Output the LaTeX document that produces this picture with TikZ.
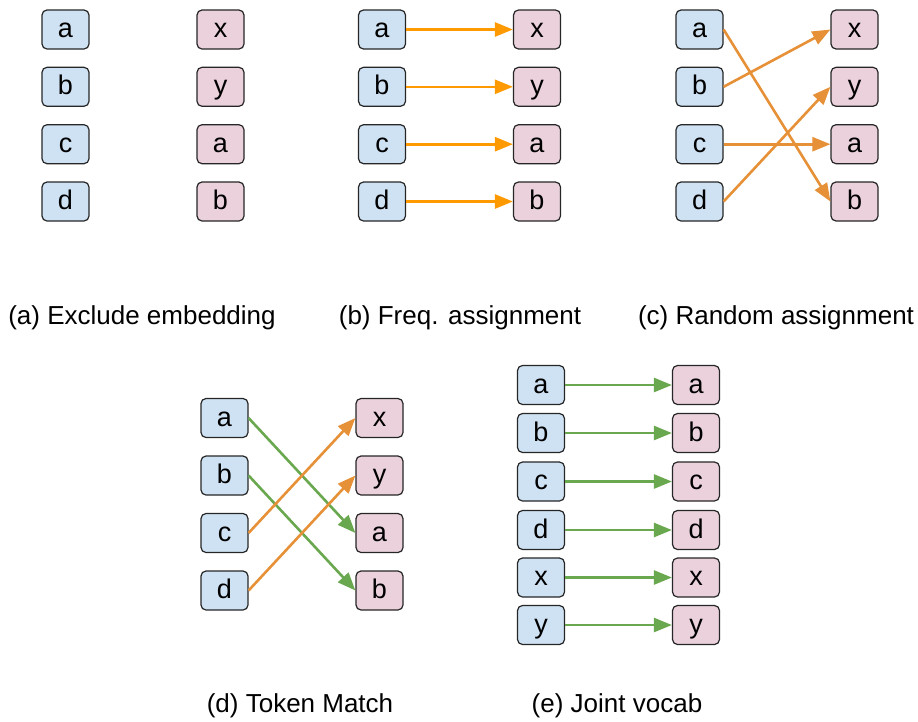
\documentclass[tikz,border=0pt]{standalone}
\usepackage{fontspec}
\setmainfont{Liberation Sans}
\usetikzlibrary{arrows.meta}
\definecolor{srcblue}{HTML}{CFE2F3}
\definecolor{tgtpink}{HTML}{EAD1DC}
\definecolor{freqorange}{HTML}{FF9900}
\definecolor{randorange}{HTML}{E69138}
\definecolor{matchgreen}{HTML}{6AA84F}
\tikzset{
  tok/.style={draw=black!85, line width=1.2pt, rounded corners=5pt,
    minimum width=47pt, minimum height=39pt, inner sep=0pt,
    text height=21pt, text depth=5pt, font=\fontsize{27}{27}\selectfont},
  src/.style={tok, fill=srcblue},
  tgt/.style={tok, fill=tgtpink},
  link/.style={line width=2.6pt, -{Triangle[length=18pt,width=14pt]}},
  captext/.style={font=\fontsize{26}{26}\selectfont}
}
\begin{document}
\begin{tikzpicture}[x=1pt, y=-1pt]
    \useasboundingbox (0,0) rectangle (918,721);
    % (a) exclude embedding
    \node[src] (aL1) at (65.5,29.5) {a};
    \node[src] (aL2) at (65.5,86.8) {b};
    \node[src] (aL3) at (65.5,144.2) {c};
    \node[src] (aL4) at (65.5,201.5) {d};
    \node[tgt] (aR1) at (220.5,29.5) {x};
    \node[tgt] (aR2) at (220.5,86.8) {y};
    \node[tgt] (aR3) at (220.5,144.2) {a};
    \node[tgt] (aR4) at (220.5,201.5) {b};
    \node[captext] (aCap) at (142,318) {(a) Exclude embedding};
    % (b) frequency assignment
    \node[src] (bL1) at (382,29.5) {a};
    \node[src] (bL2) at (382,86.8) {b};
    \node[src] (bL3) at (382,144.2) {c};
    \node[src] (bL4) at (382,201.5) {d};
    \node[tgt] (bR1) at (537,29.5) {x};
    \node[tgt] (bR2) at (537,86.8) {y};
    \node[tgt] (bR3) at (537,144.2) {a};
    \node[tgt] (bR4) at (537,201.5) {b};
    \draw[link, freqorange] (bL1.east) -- (bR1.west);
    \draw[link, freqorange] (bL2.east) -- (bR2.west);
    \draw[link, freqorange] (bL3.east) -- (bR3.west);
    \draw[link, freqorange] (bL4.east) -- (bR4.west);
    \node[captext] (bCap) at (460,318) {(b) Freq. assignment};
    % (c) random assignment
    \node[src] (cL1) at (699.5,29.5) {a};
    \node[src] (cL2) at (699.5,86.8) {b};
    \node[src] (cL3) at (699.5,144.2) {c};
    \node[src] (cL4) at (699.5,201.5) {d};
    \node[tgt] (cR1) at (854.5,29.5) {x};
    \node[tgt] (cR2) at (854.5,86.8) {y};
    \node[tgt] (cR3) at (854.5,144.2) {a};
    \node[tgt] (cR4) at (854.5,201.5) {b};
    \draw[link, randorange] (cL1.east) -- (cR4.west);
    \draw[link, randorange] (cL2.east) -- (cR1.west);
    \draw[link, randorange] (cL3.east) -- (cR3.west);
    \draw[link, randorange] (cL4.east) -- (cR2.west);
    \node[captext] (cCap) at (776,318) {(c) Random assignment};
    % (d) token match
    \node[src] (dL1) at (224.5,418) {a};
    \node[src] (dL2) at (224.5,475.5) {b};
    \node[src] (dL3) at (224.5,533) {c};
    \node[src] (dL4) at (224.5,590.5) {d};
    \node[tgt] (dR1) at (379.5,418) {x};
    \node[tgt] (dR2) at (379.5,475.5) {y};
    \node[tgt] (dR3) at (379.5,533) {a};
    \node[tgt] (dR4) at (379.5,590.5) {b};
    \draw[link, matchgreen] (dL1.east) -- (dR3.west);
    \draw[link, matchgreen] (dL2.east) -- (dR4.west);
    \draw[link, randorange] (dL3.east) -- (dR1.west);
    \draw[link, randorange] (dL4.east) -- (dR2.west);
    \node[captext] (dCap) at (300,706) {(d) Token Match};
    % (e) joint vocab
    \node[src] (eL1) at (541,385) {a};
    \node[src] (eL2) at (541,433) {b};
    \node[src] (eL3) at (541,481.5) {c};
    \node[src] (eL4) at (541,530) {d};
    \node[src] (eL5) at (541,577.5) {x};
    \node[src] (eL6) at (541,625) {y};
    \node[tgt] (eR1) at (696,385) {a};
    \node[tgt] (eR2) at (696,433) {b};
    \node[tgt] (eR3) at (696,481.5) {c};
    \node[tgt] (eR4) at (696,530) {d};
    \node[tgt] (eR5) at (696,577.5) {x};
    \node[tgt] (eR6) at (696,625) {y};
    \draw[link, matchgreen] (eL1.east) -- (eR1.west);
    \draw[link, matchgreen] (eL2.east) -- (eR2.west);
    \draw[link, matchgreen] (eL3.east) -- (eR3.west);
    \draw[link, matchgreen] (eL4.east) -- (eR4.west);
    \draw[link, matchgreen] (eL5.east) -- (eR5.west);
    \draw[link, matchgreen] (eL6.east) -- (eR6.west);
    \node[captext] (eCap) at (617,706) {(e) Joint vocab};
\end{tikzpicture}
\end{document}
